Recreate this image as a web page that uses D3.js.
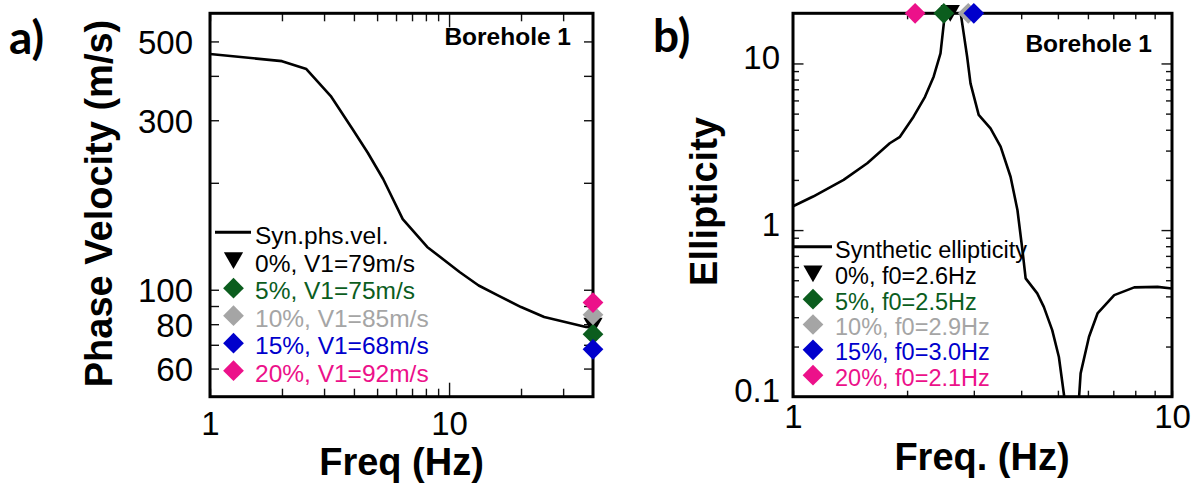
<!DOCTYPE html>
<html>
<head>
<meta charset="utf-8">
<script src="https://cdn.jsdelivr.net/npm/d3@7"></script>
<style>
  body { margin: 0; background: #fff; }
  svg { display: block; }
</style>
</head>
<body>
<svg id="chart" width="1203" height="483"></svg>
<script>
// ---- data ---------------------------------------------------------------
// Synthetic phase-velocity dispersion curve (Hz, m/s)
const phsFreq = [1.0, 2.0, 2.53, 3.2, 3.95, 4.57, 5.3, 6.4, 8.1, 11.1, 13.3, 16.0, 20.0, 25.0, 37.4, 40];
const phsVel  = [461, 440, 418, 351, 283, 243, 205, 158, 132, 112, 102.8, 96.4, 89.4, 83.8, 78.6, 78.3];

// Synthetic H/V ellipticity curve (Hz, ratio)
const ellFreq = [1.0, 1.13, 1.36, 1.57, 1.80, 1.915, 2.08, 2.23, 2.35, 2.45, 2.50, 2.64, 2.77, 2.82, 2.88, 2.94,
                 3.09, 3.32, 3.53, 3.75, 3.91, 4.03, 4.11, 4.41, 4.59, 4.83, 5.03, 5.19, 5.35, 5.69, 5.74,
                 6.04, 6.36, 7.04, 7.95, 9.16, 10.0];
const ellVal  = [1.39, 1.59, 2.0, 2.52, 3.32, 3.63, 4.79, 6.31, 8.33, 11.5, 17.4, 60, 20, 15.2, 11.0, 7.6,
                 4.91, 4.08, 3.17, 2.09, 1.32, 0.759, 0.513, 0.417, 0.346, 0.251, 0.173, 0.102, 0.02, 0.102, 0.138,
                 0.229, 0.316, 0.407, 0.453, 0.456, 0.446];

// Perturbation cases
const caseLabels = ["0%", "5%", "10%", "15%", "20%"];
const v1Values   = [79, 75, 85, 68, 92];        // m/s, read at 40 Hz
const f0Values   = [2.6, 2.5, 2.9, 3.0, 2.1];   // Hz, peak frequency

// Tick values
const velTicks     = [60, 70, 80, 90, 100, 200, 300, 400, 500];
const velLabels    = [60, 80, 100, 300, 500];
const freqTicksA   = [1, 2, 3, 4, 5, 6, 7, 8, 9, 10, 20, 30];
const freqLabelsA  = [1, 10];
const ellTicks     = [0.2, 0.3, 0.4, 0.5, 0.6, 0.7, 0.8, 0.9, 1, 2, 3, 4, 5, 6, 7, 8, 9, 10];
const ellLabels    = [0.1, 1, 10];
const freqTicksB   = [2, 3, 4, 5, 6, 7, 8, 9];
const freqLabelsB  = [1, 10];

// ---- styles -------------------------------------------------------------
const caseColors = ["#000000", "#0b5d1e", "#a5a5a5", "#0000cc", "#ec118a"];
const FONT = '"Liberation Sans", Arial, Helvetica, sans-serif';

const svg = d3.select("#chart");

// marker symbols: diamond and downward triangle, centred on their box
const diamond = {
  draw(ctx, size) {
    const a = Math.sqrt(size / 2);
    ctx.moveTo(0, -a); ctx.lineTo(a, 0); ctx.lineTo(0, a); ctx.lineTo(-a, 0); ctx.closePath();
  }
};
const triDown = {
  draw(ctx, size) {
    const w = Math.sqrt(size * 2 / 0.87), h = w * 0.87;
    ctx.moveTo(-w / 2, -h / 2); ctx.lineTo(w / 2, -h / 2); ctx.lineTo(0, h / 2); ctx.closePath();
  }
};
const markerPath = i => d3.symbol().type(i === 0 ? triDown : diamond).size(i === 0 ? 160 : 215)();

// ---- axis helper -------------------------------------------------------
function drawFrame(g, x, y, cfg) {
  const [xl, xr] = x.range();
  const [yb, yt] = y.range();
  const fmt = d => d3.format("~g")(d);

  // bottom
  const bot = g.append("g").attr("transform", `translate(0,${yb})`)
    .call(d3.axisBottom(x).tickValues(cfg.xTicks.concat(cfg.xLabels.filter(v => !cfg.xTicks.includes(v))))
      .tickSizeInner(-6).tickSizeOuter(0)
      .tickFormat(d => cfg.xLabels.includes(d) ? fmt(d) : ""));
  bot.selectAll(".tick line").attr("y2", d => -cfg.xTickLen(d));
  bot.selectAll(".tick text").attr("y", cfg.xLabelY).attr("dy", 0);

  // top
  const top = g.append("g").attr("transform", `translate(0,${yt})`)
    .call(d3.axisTop(x).tickValues(cfg.xTicks).tickSizeInner(-6).tickSizeOuter(0).tickFormat(""));
  top.selectAll(".tick line").attr("y2", d => cfg.xTopLen(d));

  // left
  const left = g.append("g").attr("transform", `translate(${xl},0)`)
    .call(d3.axisLeft(y).tickValues(cfg.yTicks.concat(cfg.yLabels.filter(v => !cfg.yTicks.includes(v))))
      .tickSizeInner(-9).tickSizeOuter(0)
      .tickFormat(d => cfg.yLabels.includes(d) ? fmt(d) : ""));
  left.selectAll(".tick line").attr("x2", d => cfg.yTickLen(d));
  left.selectAll(".tick text").attr("x", -cfg.yLabelGap).attr("dy", 0).attr("y", cfg.yLabelDy);

  // right
  const right = g.append("g").attr("transform", `translate(${xr},0)`)
    .call(d3.axisRight(y).tickValues(cfg.yTicks).tickSizeInner(-9).tickSizeOuter(0).tickFormat(""));
  right.selectAll(".tick line").attr("x2", d => -cfg.yTickLen(d));

  g.selectAll(".domain").remove();
  g.selectAll(".tick line").attr("stroke", "#111").attr("stroke-width", 1.4);
  g.selectAll(".tick text").attr("font-family", FONT).attr("font-size", 33).attr("fill", "#000");

  // box
  g.append("rect")
    .attr("x", xl).attr("y", yt).attr("width", xr - xl).attr("height", yb - yt)
    .attr("fill", "none").attr("stroke", "#000").attr("stroke-width", 3);
}

// ======================= panel a: phase velocity =======================
const xA = d3.scaleLog().domain([1, 40]).range([210, 593]);
const yA = d3.scaleLog().domain([50, 600]).range([396.7, 13.3]);
const gA = svg.append("g");

gA.append("path")
  .datum(d3.zip(phsFreq, phsVel))
  .attr("fill", "none").attr("stroke", "#000").attr("stroke-width", 2.6).attr("stroke-linejoin", "round")
  .attr("d", d3.line().x(d => xA(d[0])).y(d => yA(d[1])));

drawFrame(gA, xA, yA, {
  xTicks: freqTicksA, xLabels: freqLabelsA,
  xTickLen: d => (d === 10 ? 14 : 8), xTopLen: d => (d === 10 ? 14 : 8), xLabelY: 38.5,
  yTicks: velTicks, yLabels: velLabels,
  yTickLen: () => 9, yLabelGap: 17, yLabelDy: 12
});

// V1 markers at the high-frequency end
gA.append("g").selectAll("path")
  .data(v1Values)
  .join("path")
  .attr("transform", (v, i) => `translate(${xA(40)},${yA(v)})`)
  .attr("d", (v, i) => markerPath(i))
  .attr("fill", (v, i) => caseColors[i]);

// legend a
const legA = gA.append("g").attr("font-family", FONT).attr("font-size", 24.5);
legA.append("line").attr("x1", 215).attr("x2", 251).attr("y1", 232.3).attr("y2", 232.3)
  .attr("stroke", "#000").attr("stroke-width", 3);
legA.append("text").attr("x", 255).attr("y", 243.5).text("Syn.phs.vel.");
caseLabels.forEach((c, i) => {
  const by = 271.7 + 27.5 * i;
  legA.append("path").attr("transform", `translate(233.5,${by - 11})`)
    .attr("d", markerPath(i)).attr("fill", caseColors[i]);
  legA.append("text").attr("x", 255).attr("y", by).attr("fill", caseColors[i])
    .text(`${c}, V1=${v1Values[i]}m/s`);
});

gA.append("text").attr("x", 571).attr("y", 45).attr("text-anchor", "end")
  .attr("font-family", FONT).attr("font-weight", "bold").attr("font-size", 24.5).text("Borehole 1");

gA.append("text").attr("x", 401.5).attr("y", 475).attr("text-anchor", "middle")
  .attr("font-family", FONT).attr("font-weight", "bold").attr("font-size", 38).text("Freq (Hz)");
gA.append("text").attr("transform", "translate(112,203.5) rotate(-90)").attr("text-anchor", "middle")
  .attr("font-family", FONT).attr("font-weight", "bold").attr("font-size", 38).text("Phase Velocity (m/s)");
gA.append("text").attr("x", 9).attr("y", 53.5)
  .attr("font-family", "Lato, 'Open Sans', sans-serif").attr("font-weight", "bold").attr("font-size", 46).text("a)");

// ======================= panel b: ellipticity ==========================
const xB = d3.scaleLog().domain([1, 10]).range([793, 1172]);
const yB = d3.scaleLog().domain([0.1, 20]).range([396.7, 13.3]);
const gB = svg.append("g");

svg.append("defs").append("clipPath").attr("id", "clipB")
  .append("rect").attr("x", 793).attr("y", 13.3).attr("width", 379).attr("height", 383.4);

gB.append("path")
  .datum(d3.zip(ellFreq, ellVal))
  .attr("clip-path", "url(#clipB)")
  .attr("fill", "none").attr("stroke", "#000").attr("stroke-width", 2.6).attr("stroke-linejoin", "round")
  .attr("d", d3.line().x(d => xB(d[0])).y(d => yB(d[1])));

drawFrame(gB, xB, yB, {
  xTicks: freqTicksB, xLabels: freqLabelsB,
  xTickLen: () => 6, xTopLen: () => 6, xLabelY: 31.5,
  yTicks: ellTicks, yLabels: ellLabels,
  yTickLen: d => ([0.1, 1, 10].includes(d) ? 10.5 : 6), yLabelGap: 13, yLabelDy: 5
});

// f0 markers along the top edge
gB.append("g").selectAll("path")
  .data(f0Values)
  .join("path")
  .attr("transform", f => `translate(${xB(f)},${yB(20)})`)
  .attr("d", (f, i) => markerPath(i))
  .attr("fill", (f, i) => caseColors[i]);

// legend b
const legB = gB.append("g").attr("font-family", FONT).attr("font-size", 23.5);
legB.append("line").attr("x1", 793).attr("x2", 832).attr("y1", 246.7).attr("y2", 246.7)
  .attr("stroke", "#000").attr("stroke-width", 3);
legB.append("text").attr("x", 835).attr("y", 257.5).text("Synthetic ellipticity");
caseLabels.forEach((c, i) => {
  const by = 284.3 + 25.35 * i;
  legB.append("path").attr("transform", `translate(813,${by - 10.5})`)
    .attr("d", markerPath(i)).attr("fill", caseColors[i]);
  legB.append("text").attr("x", 835).attr("y", by).attr("fill", caseColors[i])
    .text(`${c}, f0=${f0Values[i].toFixed(1)}Hz`);
});

gB.append("text").attr("x", 1152).attr("y", 51.7).attr("text-anchor", "end")
  .attr("font-family", FONT).attr("font-weight", "bold").attr("font-size", 24.5).text("Borehole 1");

gB.append("text").attr("x", 982).attr("y", 470).attr("text-anchor", "middle")
  .attr("font-family", FONT).attr("font-weight", "bold").attr("font-size", 38).text("Freq. (Hz)");
gB.append("text").attr("transform", "translate(717,201.5) rotate(-90)").attr("text-anchor", "middle")
  .attr("font-family", FONT).attr("font-weight", "bold").attr("font-size", 38).text("Ellipticity");
gB.append("text").attr("x", 653).attr("y", 51.7)
  .attr("font-family", "Lato, 'Open Sans', sans-serif").attr("font-weight", "bold").attr("font-size", 46).text("b)");
</script>
</body>
</html>
